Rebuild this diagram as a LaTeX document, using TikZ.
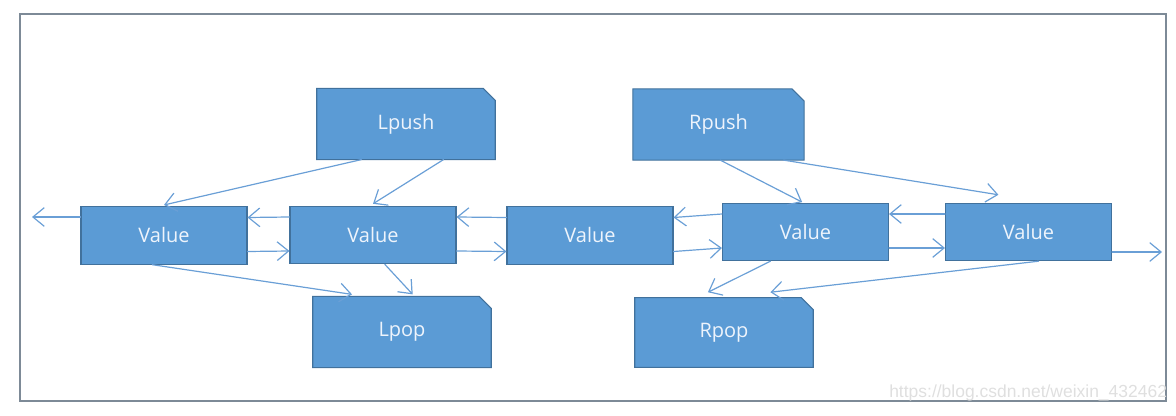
\documentclass[tikz,border=0pt]{standalone}
\usepackage{fontspec}
\setmainfont{Open Sans}
\newfontfamily\markfont{Liberation Sans}
\usetikzlibrary{arrows.meta,calc,backgrounds}
\definecolor{boxblue}{HTML}{5B9BD5}
\definecolor{boxedge}{HTML}{41719C}
\definecolor{linkblue}{HTML}{6A9FD6}
\definecolor{framegray}{HTML}{7D8A97}
\definecolor{labelwhite}{HTML}{EEF4FC}

\begin{document}
\begin{tikzpicture}[x=0.75pt,y=-0.75pt,>={Straight Barb[length=8.5pt,width=14pt]},line cap=round,
  valbox/.style={fill=boxblue,draw=boxedge,line width=0.8pt,minimum width=124.5pt,minimum height=43pt,
    inner sep=0pt,text=labelwhite,font=\fontsize{15}{18}\selectfont},
  opbox/.style={minimum width=133.5pt,minimum height=53pt,inner sep=0pt,text=labelwhite,
    font=\fontsize{15}{18}\selectfont},
  link/.style={->,draw=linkblue,line width=0.9pt}]
\useasboundingbox (0,0) rectangle (1176,416);
\draw[framegray,line width=1.5pt] (20,14) rectangle (1166,401);
% the chain of values
\node[valbox] (v1) at (164,235.5) {Value};
\node[valbox] (v2) at (373,235) {Value};
\node[valbox] (v3) at (590,235.5) {Value};
\node[valbox] (v4) at (805.5,232) {Value};
\node[valbox] (v5) at (1028.5,232) {Value};
% the four operations
\node[opbox] (lpush) at (406,124) {Lpush};
\node[opbox] (lpop) at (402,332) {Lpop};
\node[opbox,minimum width=128pt] (rpush) at (718.5,124.5) {Rpush};
\node[opbox,minimum height=52pt] (rpop) at (724,332.5) {Rpop};
\begin{scope}[on background layer]
\foreach \n in {lpush,lpop,rpush,rpop}
  \filldraw[fill=boxblue,draw=boxedge,line width=0.8pt] (\n.south west) -- (\n.north west)
    -- ([xshift=-9pt]\n.north east) -- ([yshift=-9pt]\n.north east) -- (\n.south east) -- cycle;
\end{scope}
% links between neighbours
\foreach \a/\b in {v1/v2,v2/v3,v3/v4,v4/v5} {
  \draw[link] ([yshift=13.5pt]\b.west) -- ([yshift=13.5pt]\a.east);
  \draw[link] ([yshift=-12pt]\a.east) -- ([yshift=-12pt]\b.west);
}
\coordinate (leftend) at (32,217);
\coordinate (rightend) at (1162,252);
\draw[link] (v1.west |- leftend) -- (leftend);
\draw[link] (v5.east |- rightend) -- (rightend);
% pushes and pops
\draw[link] ($(lpush.south west)!0.25!(lpush.south east)$) -- ([yshift=1pt]v1.north);
\draw[link] ($(lpush.south west)!0.71!(lpush.south east)$) -- ([yshift=1.5pt]v2.north);
\draw[link] ($(v1.south west)!0.43!(v1.south east)$) -- ([yshift=1.5pt]$(lpop.north west)!0.22!(lpop.north east)$);
\draw[link] ($(v2.south west)!0.57!(v2.south east)$) -- ([yshift=1.5pt]$(lpop.north west)!0.56!(lpop.north east)$);
\draw[link] ($(rpush.south west)!0.51!(rpush.south east)$) -- ([yshift=0.5pt]$(v4.north west)!0.48!(v4.north east)$);
\draw[link] ($(rpush.south west)!0.88!(rpush.south east)$) -- ([yshift=6pt]$(v5.north west)!0.32!(v5.north east)$);
\draw[link] ($(v4.south west)!0.29!(v4.south east)$) -- ([yshift=4pt]$(rpop.north west)!0.41!(rpop.north east)$);
\draw[link] ($(v5.south west)!0.56!(v5.south east)$) -- ([yshift=4pt]$(rpop.north west)!0.76!(rpop.north east)$);
% watermark
\begin{scope}
\clip (0,0) rectangle (1176,416);
\node[anchor=base west,inner sep=0pt,text=gray!25,font=\markfont\fontsize{13.1}{14}\selectfont] (mark) at (889,397) {https://blog.csdn.net/weixin\_432462};
\end{scope}
\end{tikzpicture}
\end{document}
